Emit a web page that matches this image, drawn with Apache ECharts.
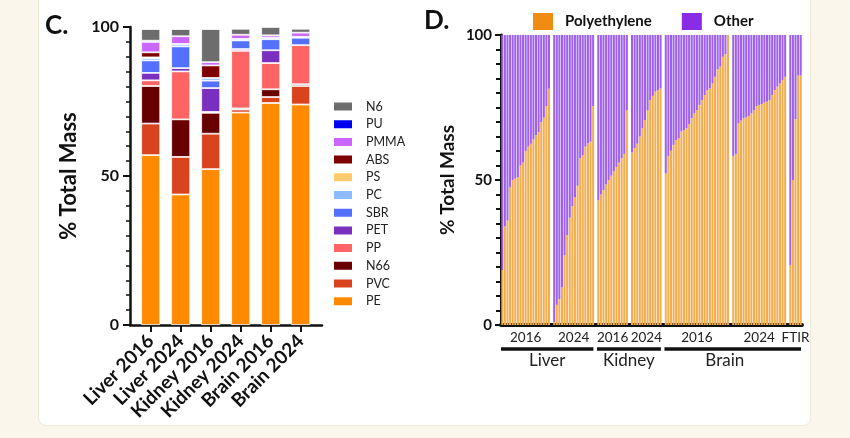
<!DOCTYPE html>
<html><head><meta charset="utf-8">
<script src="https://cdn.jsdelivr.net/npm/echarts@6/dist/echarts.min.js"></script>
<style>
html,body{margin:0;padding:0;background:#fbf6ec;}
#wrap{position:relative;width:850px;height:438px;overflow:hidden;}
#panel{position:absolute;left:38px;top:-10px;width:771px;height:434px;background:#fff;border:1px solid #f1e8d6;border-radius:8px;}
#chart{position:absolute;left:0;top:0;width:850px;height:438px;}
</style></head>
<body><div id="wrap"><div id="panel"></div><div id="chart"></div></div>
<script>
// ---------- Panel C data (percent of total mass) ----------
const cCategories = ['Liver 2016','Liver 2024','Kidney 2016','Kidney 2024','Brain 2016','Brain 2024'];
const cPolymers = ['PE','PVC','N66','PP','PET','SBR','PC','PS','ABS','PMMA','PU','N6']; // bottom -> top
const cPE   = [57.0, 43.8, 52.3, 71.3, 74.5, 74.0];
const cPVC  = [10.6, 12.6, 11.9, 1.0, 2.0, 6.2];
const cN66  = [12.6, 12.6, 7.0, 0.4, 2.6, 0.6];
const cPP   = [1.9, 16.1, 0.3, 19.3, 8.8, 13.1];
const cPET  = [2.5, 1.1, 8.0, 0.6, 4.3, 0];
const cSBR  = [4.2, 7.3, 2.5, 2.9, 3.7, 2.5];
const cPC   = [0.8, 0.8, 0.9, 0.5, 0.5, 0.3];
const cPS   = [0.2, 0, 0, 0, 0, 0];
const cABS  = [1.7, 0, 4.2, 0, 0, 0];
const cPMMA = [3.5, 2.6, 1.1, 1.4, 0.8, 1.4];
const cPU   = [0.4, 0, 0, 0, 0, 0];
const cN6   = [3.9, 2.4, 11.1, 2.0, 2.8, 1.3];
const cValues = {PE:cPE,PVC:cPVC,N66:cN66,PP:cPP,PET:cPET,SBR:cSBR,PC:cPC,PS:cPS,ABS:cABS,PMMA:cPMMA,PU:cPU,N6:cN6};
const cColors = {PE:'#ff8a00',PVC:'#d9441f',N66:'#680000',PP:'#ff6464',PET:'#7a2fbe',SBR:'#5470ff',
  PC:'#8cbcff',PS:'#ffcb6e',ABS:'#7e0000',PMMA:'#cb66fb',PU:'#0000f0',N6:'#6d6d6d'};
const cYTicks = [0, 50, 100];

// ---------- Panel D data (polyethylene % per sample) ----------
const dGroupNames = ['Liver 2016','Liver 2024','Kidney 2016','Kidney 2024','Brain 2016','Brain 2024','FTIR'];
const dYearLabels = ['2016','2024','2016','2024','2016','2024','FTIR'];
const dTissues = ['Liver','Kidney','Brain'];
const dTissueGroups = [[0,1],[2,3],[4,6]];
const liver2016  = [19, 34, 36, 47.5, 50, 50.5, 51, 55, 56, 60, 61.5, 62.5, 64, 65.5, 66.5, 70, 71.5, 75.5, 81.5];
const liver2024  = [1, 7, 9, 13, 24, 31, 37, 41, 44, 48, 57.5, 58.5, 61.5, 62.6, 63.2, 75.5];
const kidney2016 = [43, 45, 46.5, 48.5, 50, 51.5, 53, 54.5, 56, 57.5, 59, 74];
const kidney2024 = [59.5, 61, 62.5, 65, 67.8, 70.7, 74, 77.6, 79, 80.5, 81, 81.6];
const brain2016  = [52.3, 58.3, 60.1, 62.1, 63.8, 64.4, 66.7, 67.2, 67.8, 69.3, 71.3, 73, 74.1, 75.9, 77.6, 79.3, 81, 81.6, 83.3, 85.6, 88.2, 89.1, 92.5, 93.4, 100];
const brain2024  = [58.3, 59, 69.5, 70.5, 71.3, 71.6, 72.1, 73, 74.1, 75.5, 75.9, 76.2, 76.7, 77, 77.6, 79.3, 81, 82.2, 83.3, 84.5, 85.6];
const ftir       = [20.7, 50, 71, 86, 86];
const dGroups = [liver2016, liver2024, kidney2016, kidney2024, brain2016, brain2024, ftir];

// build category axis for D (with one empty slot between groups)
const dCats = [], dPE = [], dOther = [], groupRange = [];
dGroups.forEach((arr, g) => {
  const start = dCats.length;
  arr.forEach((v, i) => { dCats.push(dGroupNames[g] + ' #' + (i + 1)); dPE.push(v); dOther.push(+(100 - v).toFixed(2)); });
  groupRange.push([start, dCats.length - 1]);
  if (g < dGroups.length - 1) { dCats.push('gap ' + g); dPE.push('-'); dOther.push('-'); }
});

const FONT = 'Lato, "Noto Sans", sans-serif';
const chart = echarts.init(document.getElementById('chart'), null, {renderer: 'canvas'});

const cSeries = cPolymers.map(p => ({
  name: p, type: 'bar', stack: 'c', xAxisIndex: 0, yAxisIndex: 0, barWidth: 19,
  data: cValues[p].map(v => v === 0 ? '-' : v),
  itemStyle: {color: cColors[p], borderColor: '#ffffff', borderWidth: 0.8},
  emphasis: {disabled: true}
}));

const option = {
  animation: false,
  textStyle: {fontFamily: FONT},
  grid: [
    {left: 135.7, top: 27, width: 180, height: 298},
    {left: 130, top: 27, width: 192, height: 298},
    {left: 501, top: 35, width: 301, height: 290}
  ],
  legend: [
    {
      data: cPolymers.slice().reverse(), orient: 'vertical', left: 332, top: 100, padding: 0,
      itemWidth: 20, itemHeight: 10, itemGap: 4.7, icon: 'rect', selectedMode: false,
      textStyle: {fontSize: 12.5, color: '#222', lineHeight: 10, padding: [0, 0, 0, 8], fontFamily: FONT}
    },
    {
      data: [{name: 'Polyethylene', itemStyle: {color: '#f08c12'}}, {name: 'Other', itemStyle: {color: '#8a2be6'}}],
      left: 533, top: 13, padding: 0, itemWidth: 20, itemHeight: 17, itemGap: 30, icon: 'rect', selectedMode: false,
      textStyle: {fontSize: 15, fontWeight: 'bold', color: '#111', padding: [0, 0, 0, 7], fontFamily: FONT}
    }
  ],
  xAxis: [
    {
      type: 'category', gridIndex: 0, data: cCategories,
      axisLine: {show: false},
      axisTick: {show: true, alignWithLabel: true, length: 7, lineStyle: {color: '#111', width: 2}},
      axisLabel: {interval: 0, rotate: 45, fontSize: 19, fontWeight: 'bold', color: '#111', margin: 13, fontFamily: FONT}
    },
    {
      type: 'value', gridIndex: 1, min: 0, max: 1,
      axisLine: {show: true, lineStyle: {color: '#111', width: 2.5}},
      axisTick: {show: false}, axisLabel: {show: false}, splitLine: {show: false}
    },
    {
      type: 'category', gridIndex: 2, data: dCats, boundaryGap: true,
      axisLine: {show: true, lineStyle: {color: '#111', width: 4}},
      axisTick: {show: false}, axisLabel: {show: false}
    }
  ],
  yAxis: [
    {
      type: 'value', gridIndex: 0, min: 0, max: 100, interval: 50, offset: 5.7,
      name: '% Total Mass', nameLocation: 'middle', nameGap: 50,
      nameTextStyle: {fontSize: 22, fontWeight: 'bold', color: '#111', fontFamily: FONT},
      axisLine: {show: true, lineStyle: {color: '#111', width: 2.5}},
      axisTick: {show: true, length: 7, lineStyle: {color: '#111', width: 2}},
      minorTick: {show: true, splitNumber: 10, length: 4, lineStyle: {color: '#111', width: 1.5}},
      splitLine: {show: false}, minorSplitLine: {show: false},
      axisLabel: {fontSize: 16, fontWeight: 'bold', color: '#111', margin: 11, fontFamily: FONT,
        formatter: v => cYTicks.includes(v) ? String(v) : ''}
    },
    {type: 'value', gridIndex: 1, show: false, min: 0, max: 1},
    {
      type: 'value', gridIndex: 2, min: 0, max: 100, interval: 50,
      name: '% Total Mass', nameLocation: 'middle', nameGap: 44,
      nameTextStyle: {fontSize: 19, fontWeight: 'bold', color: '#111', fontFamily: FONT},
      axisLine: {show: true, lineStyle: {color: '#111', width: 3}},
      axisTick: {show: true, length: 6, lineStyle: {color: '#111', width: 2}},
      minorTick: {show: true, splitNumber: 10, length: 5, lineStyle: {color: '#111', width: 2}},
      splitLine: {show: false}, minorSplitLine: {show: false},
      axisLabel: {fontSize: 15, fontWeight: 'bold', color: '#111', margin: 9, fontFamily: FONT}
    }
  ],
  series: cSeries.concat([
    {name: 'Polyethylene', type: 'bar', stack: 'd', xAxisIndex: 2, yAxisIndex: 2, data: dPE,
      barCategoryGap: '22%', itemStyle: {color: '#f3ad4f'}, emphasis: {disabled: true}},
    {name: 'Other', type: 'bar', stack: 'd', xAxisIndex: 2, yAxisIndex: 2, data: dOther,
      barCategoryGap: '22%', itemStyle: {color: '#9e60ea'}, emphasis: {disabled: true}}
  ])
};
chart.setOption(option);

// ---------- annotations for panel D, positioned from the axis scale ----------
const px = idx => chart.convertToPixel({xAxisIndex: 2}, idx);
const half = 301 / dCats.length / 2;
const graphics = [
  {type: 'text', left: 45, top: 13, style: {text: 'C.', font: 'bold 26px ' + FONT, fill: '#111'}},
  {type: 'text', left: 424, top: 8, style: {text: 'D.', font: 'bold 26px ' + FONT, fill: '#111'}}
];
groupRange.forEach((r, g) => {
  const cx = (px(r[0]) + px(r[1])) / 2;
  graphics.push({type: 'text', x: cx, y: 338, style: {text: dYearLabels[g], font: '13.5px ' + FONT, fill: '#222', align: 'center', verticalAlign: 'middle'}});
});
dTissueGroups.forEach((tg, t) => {
  const x1 = px(groupRange[tg[0]][0]) - half;
  const x2 = px(groupRange[tg[1]][1]) + half - 1;
  graphics.push({type: 'line', shape: {x1: x1, y1: 349, x2: x2, y2: 349}, style: {stroke: '#111', lineWidth: 3.5}});
  const labelEnd = t === 2 ? px(groupRange[5][1]) : x2;
  graphics.push({type: 'text', x: (x1 + labelEnd) / 2, y: 361, style: {text: dTissues[t], font: '17px ' + FONT, fill: '#222', align: 'center', verticalAlign: 'middle'}});
});
chart.setOption({graphic: graphics});
</script>
</body></html>
